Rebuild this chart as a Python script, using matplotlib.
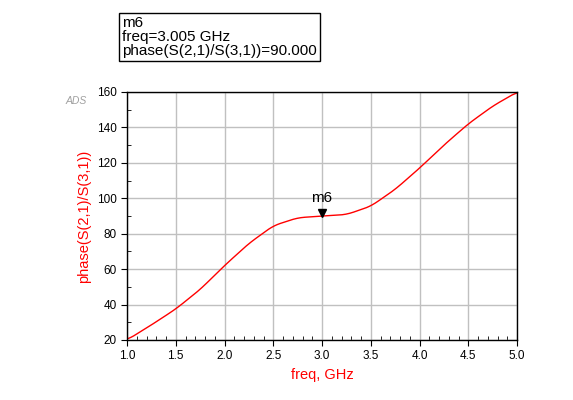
import numpy as np
import matplotlib.pyplot as plt
from matplotlib.ticker import MultipleLocator

plt.rcParams['font.family'] = ['Liberation Sans', 'DejaVu Sans']

freq = [1.0, 1.25, 1.5, 1.75, 2.0, 2.25, 2.5, 2.75, 3.0, 3.25, 3.5, 3.75, 4.0, 4.25, 4.5, 4.75, 5.0]
phase = [20, 28.5, 37.5, 48.5, 62, 74.5, 84.5, 89, 90, 90.8, 95.5, 105, 117, 130, 142, 152, 160]

fig = plt.figure(figsize=(5.73, 4.0), dpi=100)
ax = fig.add_axes([127/573, 60/400, 390/573, 248/400])

# smooth through the read points
xs = np.linspace(1, 5, 400)
ys = np.interp(xs, freq, phase)
k = np.ones(15) / 15
ys_s = np.convolve(np.pad(ys, 7, mode='edge'), k, mode='valid')
ax.plot(xs, ys_s, color='red', lw=1)

ax.set_xlim(1, 5)
ax.set_ylim(20, 160)
ax.xaxis.set_major_locator(MultipleLocator(0.5))
ax.yaxis.set_major_locator(MultipleLocator(20))
ax.xaxis.set_minor_locator(MultipleLocator(0.1))
ax.yaxis.set_minor_locator(MultipleLocator(10))
ax.tick_params(which='major', direction='out', length=4, labelsize=8.5)
ax.tick_params(which='minor', direction='in', length=3)
ax.grid(True, which='major', color='#c0c0c0', lw=1)
for s in ax.spines.values():
    s.set_linewidth(1)

ax.set_xlabel('freq, GHz', color='red', fontsize=10.5)
ax.set_ylabel('phase(S(2,1)/S(3,1))', color='red', fontsize=10.5)

# marker m6
ax.plot([3.005], [91.8], marker='v', color='black', markersize=6)
ax.text(3.0, 96, 'm6', ha='center', va='bottom', fontsize=11)

fig.text(66/573, 1 - 104/400, 'ADS', color='#a0a0a0', fontsize=7.5, fontstyle='italic')
fig.text(122/573, 1 - 37/400, 'm6\nfreq=3.005 GHz\nphase(S(2,1)/S(3,1))=90.000',
         fontsize=11, va='center', ha='left', linespacing=1.0,
         bbox=dict(facecolor='white', edgecolor='black', boxstyle='square,pad=0.2'))

fig.savefig('out.png', dpi=100)
